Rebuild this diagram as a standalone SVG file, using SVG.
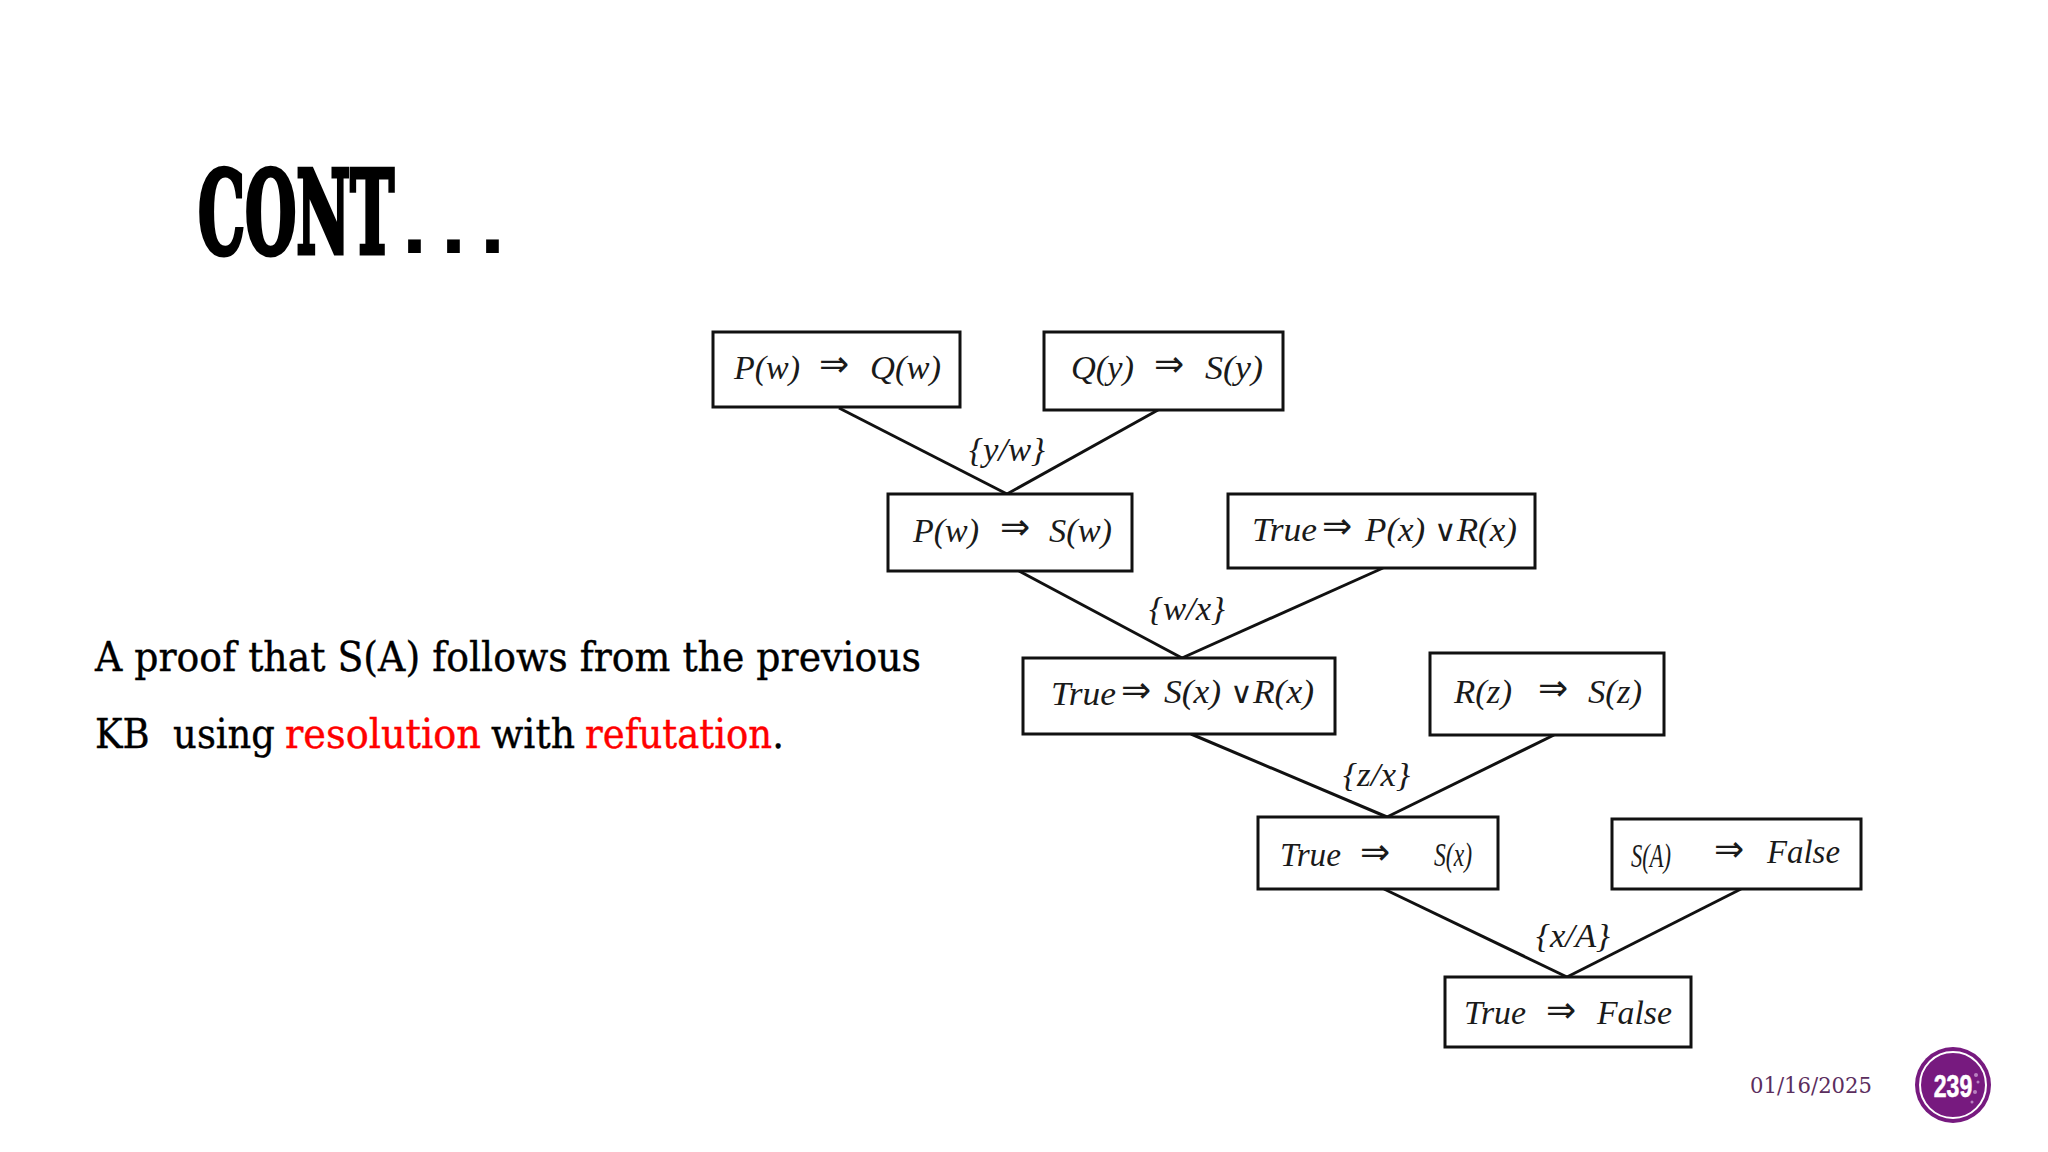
<svg xmlns="http://www.w3.org/2000/svg" width="2048" height="1152" viewBox="0 0 2048 1152">
<style>
.box{fill:#fff;stroke:#111;stroke-width:3}
.m{font-family:"Liberation Serif",serif;font-style:italic;font-size:34px;fill:#1a1a1a}
.a{font-family:"DejaVu Sans",sans-serif;font-size:36px;fill:#1a1a1a}
.o{font-family:"DejaVu Sans",sans-serif;font-style:normal;font-size:30px}
.l{font-family:"Liberation Serif",serif;font-style:italic;font-size:33px;fill:#1a1a1a}
.b{font-family:"DejaVu Serif",serif;font-size:41px;fill:#000;stroke:#000;stroke-width:.4}
.r{fill:#f00;stroke:#f00}
.k{fill:#000;stroke:#000}
#conn line{stroke:#111;stroke-width:3}
</style>
<rect width="2048" height="1152" fill="#fff"/>
<g id="title"><text transform="translate(198 253) scale(0.513 1)" font-family="DejaVu Serif" font-weight="700" font-size="115" fill="#000" stroke="#000" stroke-width="5">CONT</text><text x="402" y="253" font-family="Liberation Sans" font-weight="700" font-size="90" letter-spacing="14" fill="#000">...</text></g>
<g id="body">
<text class="b" x="95" y="671" textLength="826" lengthAdjust="spacingAndGlyphs">A proof that S(A) follows from the previous</text>
<text class="b" x="95" y="748" textLength="180" lengthAdjust="spacingAndGlyphs" xml:space="preserve">KB  using</text>
<text class="b r" x="285" y="748" textLength="196" lengthAdjust="spacingAndGlyphs">resolution</text>
<text class="b" x="491" y="748" textLength="84" lengthAdjust="spacingAndGlyphs">with</text>
<text class="b r" x="585" y="748" textLength="199" lengthAdjust="spacingAndGlyphs">refutation<tspan class="k">.</tspan></text>
</g>
<g id="conn">
<line x1="839" y1="408" x2="1007" y2="494"/><line x1="1158" y1="410" x2="1007" y2="494"/>
<line x1="1019" y1="571" x2="1182" y2="658"/><line x1="1383" y1="568" x2="1182" y2="658"/>
<line x1="1191" y1="734" x2="1387" y2="817"/><line x1="1554" y1="735" x2="1387" y2="817"/>
<line x1="1384" y1="889" x2="1567" y2="977"/><line x1="1741" y1="889" x2="1567" y2="977"/>
</g>
<g id="n1"><rect class="box" x="713" y="332" width="247" height="75"/><text class="m" x="734" y="379" textLength="66" lengthAdjust="spacingAndGlyphs">P(w)</text><text class="a" x="819" y="376">⇒</text><text class="m" x="870" y="379" textLength="71" lengthAdjust="spacingAndGlyphs">Q(w)</text></g>
<g id="n2"><rect class="box" x="1044" y="332" width="239" height="78"/><text class="m" x="1071" y="379" textLength="63" lengthAdjust="spacingAndGlyphs">Q(y)</text><text class="a" x="1154" y="376">⇒</text><text class="m" x="1205" y="379" textLength="58" lengthAdjust="spacingAndGlyphs">S(y)</text></g>
<g id="n3"><rect class="box" x="888" y="494" width="244" height="77"/><text class="m" x="913" y="542" textLength="66" lengthAdjust="spacingAndGlyphs">P(w)</text><text class="a" x="1000" y="539">⇒</text><text class="m" x="1049" y="542" textLength="63" lengthAdjust="spacingAndGlyphs">S(w)</text></g>
<g id="n4"><rect class="box" x="1228" y="494" width="307" height="74"/><text class="m" x="1252" y="541" textLength="65" lengthAdjust="spacingAndGlyphs">True</text><text class="a" x="1322" y="538">⇒</text><text class="m" x="1365" y="541" textLength="152" lengthAdjust="spacingAndGlyphs">P(x) <tspan class="o">∨</tspan>R(x)</text></g>
<g id="n5"><rect class="box" x="1023" y="658" width="312" height="76"/><text class="m" x="1051" y="705" textLength="65" lengthAdjust="spacingAndGlyphs">True</text><text class="a" x="1121" y="702">⇒</text><text class="m" x="1164" y="703" textLength="150" lengthAdjust="spacingAndGlyphs">S(x) <tspan class="o">∨</tspan>R(x)</text></g>
<g id="n6"><rect class="box" x="1430" y="653" width="234" height="82"/><text class="m" x="1454" y="703" textLength="58" lengthAdjust="spacingAndGlyphs">R(z)</text><text class="a" x="1538" y="700">⇒</text><text class="m" x="1588" y="703" textLength="54" lengthAdjust="spacingAndGlyphs">S(z)</text></g>
<g id="n7"><rect class="box" x="1258" y="817" width="240" height="72"/><text class="m" x="1280" y="866" textLength="61" lengthAdjust="spacingAndGlyphs">True</text><text class="a" x="1360" y="864">⇒</text><text class="m" x="1434" y="866" textLength="38" lengthAdjust="spacingAndGlyphs">S(x)</text></g>
<g id="n8"><rect class="box" x="1612" y="819" width="249" height="70"/><text class="m" x="1631" y="867" textLength="40" lengthAdjust="spacingAndGlyphs">S(A)</text><text class="a" x="1714" y="861">⇒</text><text class="m" x="1767" y="863" textLength="73" lengthAdjust="spacingAndGlyphs">False</text></g>
<g id="n9"><rect class="box" x="1445" y="977" width="246" height="70"/><text class="m" x="1464" y="1024" textLength="62" lengthAdjust="spacingAndGlyphs">True</text><text class="a" x="1546" y="1022">⇒</text><text class="m" x="1597" y="1024" textLength="75" lengthAdjust="spacingAndGlyphs">False</text></g>
<g id="labels">
<text class="l" x="969" y="461" textLength="76" lengthAdjust="spacingAndGlyphs">{y/w}</text>
<text class="l" x="1149" y="620" textLength="76" lengthAdjust="spacingAndGlyphs">{w/x}</text>
<text class="l" x="1343" y="786" textLength="67" lengthAdjust="spacingAndGlyphs">{z/x}</text>
<text class="l" x="1536" y="947" textLength="74" lengthAdjust="spacingAndGlyphs">{x/A}</text>
</g>
<g id="footer">
<text x="1750" y="1093" font-family="DejaVu Serif" font-size="22" fill="#5b2e5e" textLength="122" lengthAdjust="spacingAndGlyphs">01/16/2025</text>
<circle cx="1953" cy="1085" r="38" fill="#771a7f"/>
<circle cx="1953" cy="1085" r="33" fill="none" stroke="#fff" stroke-width="2"/>
<g fill="#c99bd0" opacity="0.8"><circle cx="1976" cy="1075" r="2"/><circle cx="1970" cy="1090" r="1.5"/><circle cx="1975" cy="1092" r="2"/><circle cx="1972" cy="1102" r="1.5"/><circle cx="1978" cy="1082" r="1.5"/></g>
<text transform="translate(1953 1097) scale(0.72 1)" text-anchor="middle" font-family="Liberation Sans" font-weight="700" font-size="32" fill="#fff" stroke="#fff" stroke-width=".6">239</text>
</g>
</svg>
